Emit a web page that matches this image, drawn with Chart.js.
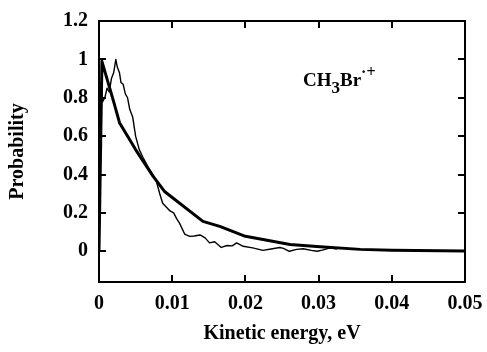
<!DOCTYPE html>
<html>
<head>
<meta charset="utf-8">
<script src="https://cdn.jsdelivr.net/npm/chart.js@4"></script>
<style>
html,body{margin:0;padding:0;background:#fff;}
#wrap{width:487px;height:352px;position:relative;}
</style>
</head>
<body>
<div id="wrap"><canvas id="c" width="487" height="352"></canvas></div>
<script>
// Model (thick smooth curve)
const modelX = [0, 0.0004, 0.002, 0.0028, 0.005, 0.0074, 0.009, 0.0142, 0.0165, 0.0200, 0.0261, 0.0302, 0.0357, 0.040, 0.050];
const modelY = [0, 0.99, 0.78, 0.67, 0.53, 0.39, 0.31, 0.156, 0.13, 0.078, 0.035, 0.024, 0.01, 0.006, 0.002];
// Experiment (thin noisy curve)
const exptX = [0, 0.0002, 0.0005, 0.0008, 0.0011, 0.0014, 0.0017, 0.0020, 0.0023, 0.0025, 0.0028, 0.0030, 0.0033, 0.0036, 0.0039, 0.0042, 0.0046, 0.0050, 0.0055, 0.0060, 0.0067, 0.0072, 0.0078, 0.0083, 0.0087, 0.0097, 0.0102, 0.0106, 0.0110, 0.0117, 0.0124, 0.0130, 0.0138, 0.0145, 0.0151, 0.0158, 0.0167, 0.0175, 0.0182, 0.0188, 0.0197, 0.0210, 0.0224, 0.0235, 0.0247, 0.0252, 0.0260, 0.0270, 0.0279, 0.0290, 0.0298, 0.0305, 0.0316, 0.0325];
const exptY = [0, 0.88, 0.78, 0.80, 0.85, 0.83, 0.90, 0.93, 1.00, 0.96, 0.93, 0.88, 0.87, 0.82, 0.80, 0.74, 0.70, 0.60, 0.53, 0.49, 0.44, 0.41, 0.37, 0.30, 0.25, 0.21, 0.20, 0.17, 0.147, 0.09, 0.078, 0.08, 0.085, 0.07, 0.044, 0.05, 0.02, 0.03, 0.028, 0.044, 0.026, 0.018, 0.005, 0.012, 0.02, 0.015, 0.0, 0.01, 0.013, 0.005, 0.0, 0.006, 0.018, 0.012];
const xTicks = [0, 0.01, 0.02, 0.03, 0.04, 0.05];
const yTicks = [0, 0.2, 0.4, 0.6, 0.8, 1, 1.2];
const xTitle = 'Kinetic energy, eV';
const yTitle = 'Probability';

const FONT = "'Liberation Serif', 'Times New Roman', serif";

const frameAndTicks = {
  id: 'frameAndTicks',
  afterDatasetsDraw(chart) {
    const ctx = chart.ctx, a = chart.chartArea;
    const xs = chart.scales.x, ys = chart.scales.y;
    const L = 7;
    ctx.save();
    ctx.strokeStyle = '#000';
    ctx.lineWidth = 2;
    ctx.strokeRect(a.left, a.top, a.right - a.left, a.bottom - a.top);
    ctx.beginPath();
    xTicks.forEach(v => {
      if (v <= xs.min || v >= xs.max) return;
      const px = Math.round(xs.getPixelForValue(v));
      ctx.moveTo(px, a.bottom); ctx.lineTo(px, a.bottom - L);
      ctx.moveTo(px, a.top); ctx.lineTo(px, a.top + L);
    });
    yTicks.forEach(v => {
      if (v >= ys.max) return;
      const py = Math.round(ys.getPixelForValue(v));
      ctx.moveTo(a.left, py); ctx.lineTo(a.left + L, py);
      ctx.moveTo(a.right, py); ctx.lineTo(a.right - L, py);
    });
    ctx.stroke();
    // annotation
    ctx.fillStyle = '#000';
    ctx.textBaseline = 'alphabetic';
    ctx.textAlign = 'left';
    let x = 303; const base = 86;
    ctx.font = "bold 19px " + FONT;
    ctx.fillText('CH', x, base); x += ctx.measureText('CH').width;
    ctx.font = "bold 17px " + FONT;
    ctx.fillText('3', x, base + 7); x += ctx.measureText('3').width;
    ctx.font = "bold 19px " + FONT;
    ctx.fillText('Br', x, base); x += ctx.measureText('Br').width;
    ctx.font = "bold 16px " + FONT;
    ctx.fillText('·+', x, base - 9);
    ctx.restore();
  }
};

new Chart(document.getElementById('c'), {
  type: 'line',
  data: {
    datasets: [
      { data: modelX.map((x, i) => ({x, y: modelY[i]})), borderColor: '#000', borderWidth: 3, borderJoinStyle: 'round', pointRadius: 0, tension: 0, fill: false },
      { data: exptX.map((x, i) => ({x, y: exptY[i]})), borderColor: '#000', borderWidth: 1.4, borderJoinStyle: 'round', pointRadius: 0, tension: 0, fill: false }
    ]
  },
  options: {
    responsive: false,
    animation: false,
    devicePixelRatio: 1,
    layout: { padding: { top: 21, right: 22, left: 0, bottom: 0 } },
    plugins: { legend: { display: false }, tooltip: { enabled: false } },
    scales: {
      x: {
        type: 'linear', min: 0, max: 0.05,
        afterBuildTicks: s => { s.ticks = xTicks.map(v => ({ value: v })); },
        afterFit: s => { s.height = 70; s.paddingLeft = 0; s.paddingRight = 0; },
        grid: { display: false, drawTicks: false },
        border: { display: false },
        ticks: { color: '#000', padding: 10, font: { family: FONT, size: 20, weight: 'bold' }, callback: v => String(v), maxRotation: 0, autoSkip: false },
        title: { display: true, text: xTitle, color: '#000', font: { family: FONT, size: 20, weight: 'bold' }, padding: { top: 0, bottom: 6 } }
      },
      y: {
        type: 'linear', min: -0.16, max: 1.2,
        afterBuildTicks: s => { s.ticks = yTicks.map(v => ({ value: v })); },
        afterFit: s => { s.width = 99; s.paddingTop = 0; s.paddingBottom = 0; },
        grid: { display: false, drawTicks: false },
        border: { display: false },
        ticks: { color: '#000', padding: 11, font: { family: FONT, size: 20, weight: 'bold' }, callback: v => String(v), autoSkip: false },
        title: { display: true, text: yTitle, color: '#000', font: { family: FONT, size: 20, weight: 'bold' }, padding: { top: 6, bottom: 0 } }
      }
    }
  },
  plugins: [frameAndTicks]
});
</script>
</body>
</html>
